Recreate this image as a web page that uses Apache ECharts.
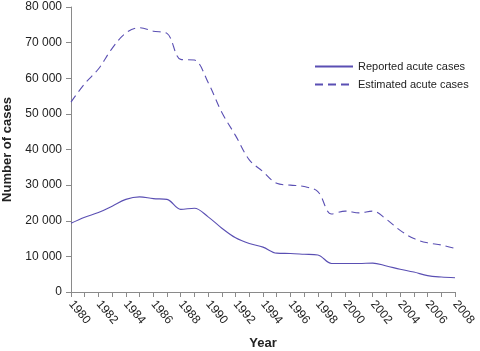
<!DOCTYPE html>
<html>
<head>
<meta charset="utf-8">
<script src="https://cdn.jsdelivr.net/npm/echarts@6/dist/echarts.min.js"></script>
<style>
  html, body { margin: 0; padding: 0; background: #fff; }
  #chart { width: 480px; height: 351px; }
</style>
</head>
<body>
<div id="chart"></div>
<script>
// years on the x axis
const years = [];
for (let y = 1980; y <= 2008; y++) years.push(String(y));

// values
const reported = [19300, 21000, 22300, 24100, 26000, 26700, 26200, 26000, 23200, 23500,
  21100, 17900, 15200, 13600, 12600, 10900, 10800, 10600, 10400, 8000,
  8000, 8000, 8100, 7300, 6400, 5600, 4600, 4200, 4000];
const estimated = [53300, 58500, 62600, 68400, 72700, 74200, 73200, 72600, 65300, 65100,
  58800, 50400, 43900, 37100, 33800, 30500, 30000, 29600, 28200, 21900,
  22700, 22200, 22700, 20400, 17300, 15000, 13800, 13200, 12200];

const lineColor = '#5a4fb3';
const axisColor = '#8a8a8a';
const font = 'Liberation Sans, Arial, sans-serif';

const chart = echarts.init(document.getElementById('chart'));

const option = {
  animation: false,
  textStyle: { fontFamily: font },
  grid: { left: 71, right: 25, top: 7, bottom: 59, containLabel: false, outerBoundsMode: 'none' },
  legend: {
    orient: 'vertical',
    left: 309,
    top: 56,
    itemWidth: 38,
    itemHeight: 10,
    itemGap: 7,
    itemStyle: { opacity: 0 },
    textStyle: { fontFamily: font, fontSize: 11, color: '#222' },
    data: ['Reported acute cases', 'Estimated acute cases']
  },
  xAxis: {
    type: 'category',
    data: years,
    boundaryGap: false,
    name: 'Year',
    nameLocation: 'middle',
    nameGap: 45,
    nameTextStyle: { fontFamily: font, fontSize: 13, fontWeight: 'bold', color: '#222' },
    axisLine: { lineStyle: { color: axisColor } },
    axisTick: { show: true, interval: 0, length: 5, lineStyle: { color: axisColor } },
    axisLabel: {
      interval: 1,
      rotate: -50,
      margin: 10,
      fontSize: 12,
      color: '#222',
      fontFamily: font
    },
    splitLine: { show: false }
  },
  yAxis: {
    type: 'value',
    min: 0,
    max: 80000,
    interval: 10000,
    name: 'Number of cases',
    nameLocation: 'middle',
    nameGap: 54,
    nameTextStyle: { fontFamily: font, fontSize: 13, fontWeight: 'bold', color: '#222' },
    axisLine: { show: true, lineStyle: { color: axisColor } },
    axisTick: { show: true, length: 5, lineStyle: { color: axisColor } },
    axisLabel: {
      margin: 9,
      fontSize: 12,
      color: '#222',
      fontFamily: font,
      formatter: v => String(v).replace(/\B(?=(\d{3})+(?!\d))/g, ' ')
    },
    splitLine: { show: false }
  },
  series: [
    {
      name: 'Reported acute cases',
      type: 'line',
      data: reported,
      smooth: 0.35,
      symbol: 'none',
      lineStyle: { color: lineColor, width: 1.1 },
      itemStyle: { color: lineColor }
    },
    {
      name: 'Estimated acute cases',
      type: 'line',
      data: estimated,
      smooth: 0.35,
      symbol: 'none',
      lineStyle: { color: lineColor, width: 1.1, type: [8, 5] },
      itemStyle: { color: lineColor }
    }
  ]
};

chart.setOption(option);
</script>
</body>
</html>
